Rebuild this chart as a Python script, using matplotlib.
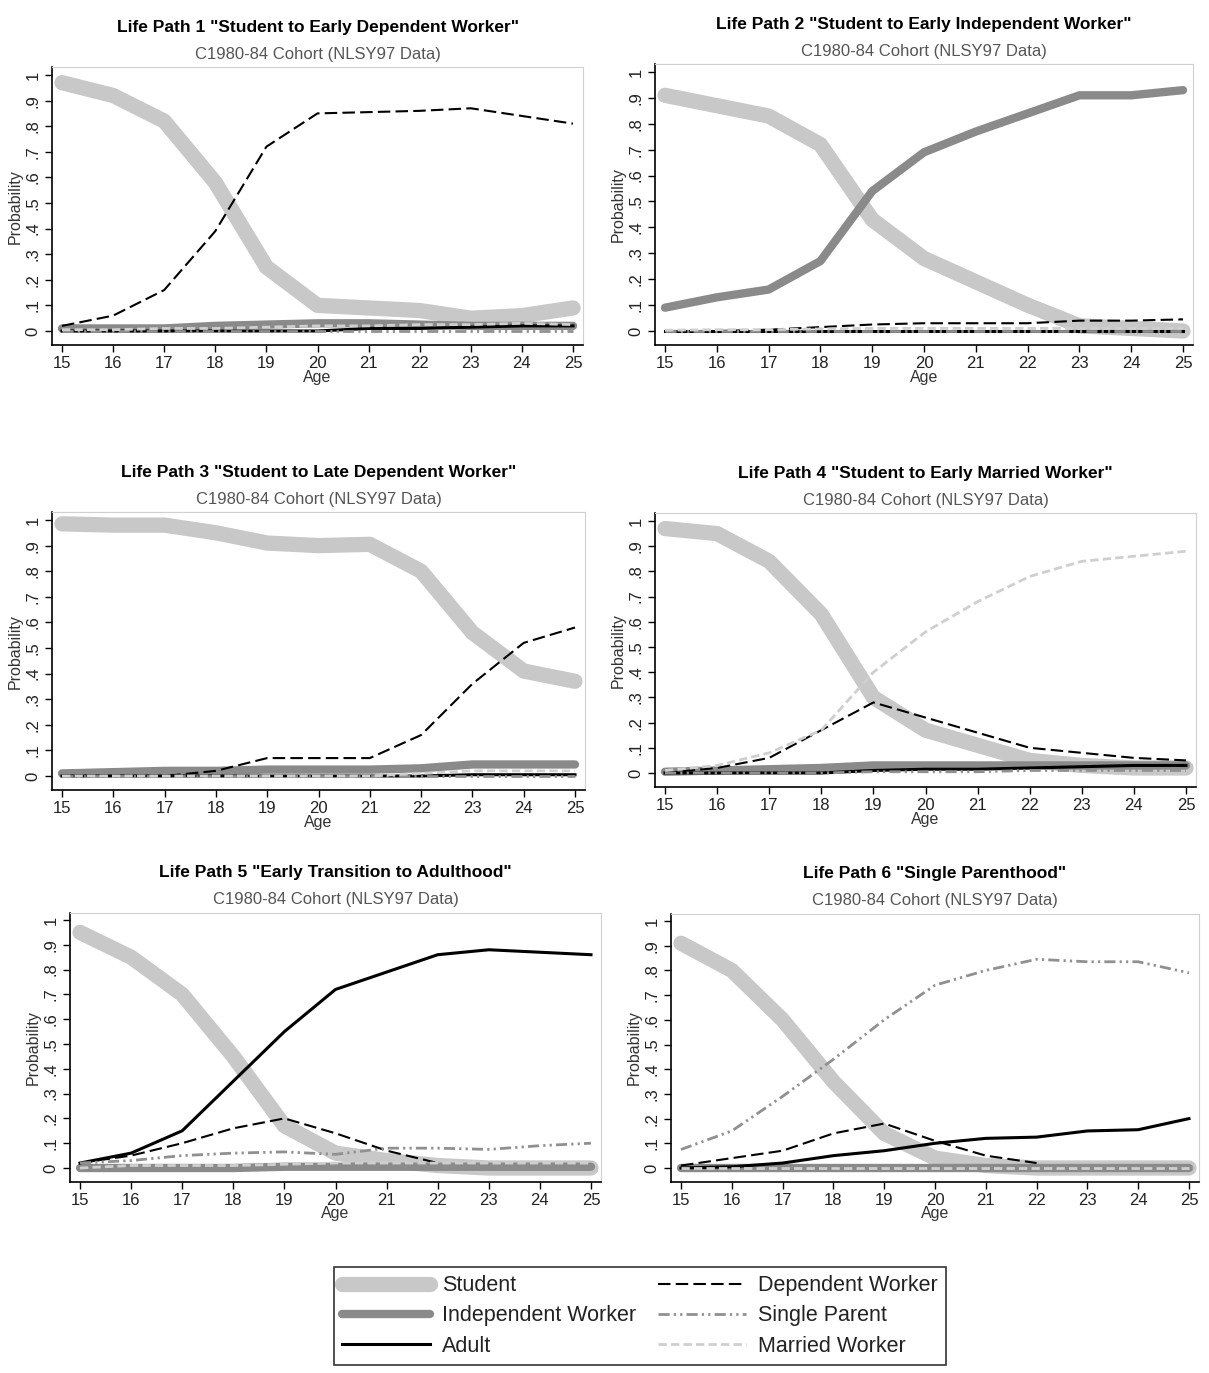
import matplotlib
matplotlib.use('Agg')
import matplotlib.pyplot as plt
import numpy as np

plt.rcParams['font.family'] = ['Liberation Sans', 'DejaVu Sans']

ages = np.arange(15, 26)
nan = np.nan

titles = ['Life Path 1 "Student to Early Dependent Worker"',
          'Life Path 2 "Student to Early Independent Worker"',
          'Life Path 3 "Student to Late Dependent Worker"',
          'Life Path 4 "Student to Early Married Worker"',
          'Life Path 5 "Early Transition to Adulthood"',
          'Life Path 6 "Single Parenthood"']
subtitle = 'C1980-84 Cohort (NLSY97 Data)'

series_names = ['Student', 'Independent Worker', 'Adult',
                'Dependent Worker', 'Single Parent', 'Married Worker']

# probabilities by age 15..25, one list per series, per life path
student = [
    [.97, .92, .82, .58, .25, .10, .09, .08, .05, .06, .09],
    [.91, .87, .83, .72, .43, .28, .19, .10, .02, .01, 0],
    [.985, .98, .98, .95, .91, .90, .905, .80, .56, .41, .37],
    [.97, .95, .84, .63, .30, .17, .11, .05, .03, .02, .02],
    [.95, .85, .70, .45, .17, .06, .03, .01, 0, 0, 0],
    [.91, .80, .60, .35, .14, .04, .01, 0, 0, 0, 0]]
independent = [
    [.01, .01, .01, .02, .025, .03, .03, .025, .02, .02, .02],
    [.09, .13, .16, .27, .54, .69, .77, .84, .91, .91, .93],
    [.01, .015, .02, .02, .025, .025, .025, .03, .045, .045, .045],
    [.005, .01, .015, .02, .03, .03, .03, .03, .03, .03, .03],
    [0, 0, 0, 0, .005, .005, .005, .005, .005, .005, .005],
    [0, 0, 0, 0, 0, 0, 0, 0, 0, 0, 0]]
adult = [
    [0, 0, 0, 0, 0, 0, .01, .01, .015, .02, .02],
    [0, 0, 0, 0, 0, 0, 0, 0, 0, 0, 0],
    [0, 0, 0, 0, 0, 0, 0, 0, .005, .005, .005],
    [0, 0, 0, 0, .01, .015, .015, .02, .025, .03, .03],
    [.02, .06, .15, .35, .55, .72, .79, .86, .88, .87, .86],
    [0, .005, .02, .05, .07, .10, .12, .125, .15, .155, .20]]
dependent = [
    [.02, .06, .16, .39, .72, .85, .855, .86, .87, .84, .81],
    [0, 0, .005, .015, .025, .03, .03, .03, .04, .04, .045],
    [0, 0, 0, .02, .07, .07, .07, .16, .36, .52, .58],
    [0, .02, .06, .17, .28, .22, .16, .10, .08, .06, .05],
    [.02, .05, .10, .16, .20, .14, .07, .02, nan, nan, nan],
    [.01, .04, .07, .14, .18, .11, .05, .02, nan, nan, nan]]
single_parent = [
    [0, 0, 0, 0, 0, 0, 0, 0, 0, 0, 0],
    [0, 0, 0, 0, 0, 0, 0, 0, 0, 0, 0],
    [0, 0, 0, 0, 0, 0, 0, 0, 0, 0, 0],
    [0, 0, 0, 0, .005, .005, .005, .01, .01, .01, .01],
    [.02, .03, .05, .06, .065, .055, .08, .08, .075, .09, .10],
    [.075, .15, .29, .44, .60, .74, .80, .845, .835, .835, .79]]
married = [
    [.005, .005, .01, .01, .015, .02, .02, .025, .025, .03, .025],
    [.003, .005, .005, .008, .01, .01, .01, .01, .01, .01, .01],
    [0, 0, 0, 0, 0, 0, 0, .01, .02, .02, .02],
    [.01, .03, .08, .17, .40, .56, .68, .78, .84, .86, .88],
    [0, .01, .01, .01, .015, .02, .02, .02, .02, .02, .02],
    [0, 0, 0, 0, 0, 0, 0, 0, 0, 0, 0]]

styles = [dict(color='#c8c8c8', lw=11, solid_capstyle='round'),
          dict(color='#8a8a8a', lw=6, solid_capstyle='round'),
          dict(color='black', lw=2.2),
          dict(color='black', lw=1.5, dashes=(6, 2.5)),
          dict(color='#909090', lw=2, dashes=(4, 1.5, 0.8, 1.5, 0.8, 1.5)),
          dict(color='#cfcfcf', lw=2, dashes=(3, 1.5))]

# pixel anchors of age 15, age 25, prob 0, prob 1 in each panel
anchors = [(62, 573, 331, 75), (665, 1183, 331, 72),
           (62, 575, 776, 520), (665, 1186, 773, 521),
           (80, 591, 1168, 920), (681, 1189, 1168, 921)]

W, H = 1209, 1373
fig = plt.figure(figsize=(W / 100, H / 100), dpi=100)

xlo, xhi = 14.8, 25.2
ylo, yhi = -0.055, 1.03
narrow = ['Liberation Sans Narrow', 'Liberation Sans']

for p in range(6):
    x15, x25, y0, y1 = anchors[p]
    sx = (x25 - x15) / 10.0
    sy = (y0 - y1)
    left = x15 + (xlo - 15) * sx
    right = x15 + (xhi - 15) * sx
    bot = y0 - ylo * sy
    top = y0 - yhi * sy
    ax = fig.add_axes([left / W, 1 - bot / H, (right - left) / W, (bot - top) / H])

    data = [student[p], independent[p], adult[p], dependent[p], single_parent[p], married[p]]
    for k in range(6):
        ax.plot(ages, data[k], label=series_names[k], **styles[k])

    ax.set_xlim(xlo, xhi)
    ax.set_ylim(ylo, yhi)
    ax.set_xticks(ages)
    ax.set_xticklabels([str(a) for a in ages], family=narrow, fontsize=12, color='#222222')
    yt = np.round(np.arange(0, 1.01, 0.1), 1)
    ax.set_yticks(yt)
    ax.set_yticklabels(['0', '.1', '.2', '.3', '.4', '.5', '.6', '.7', '.8', '.9', '1'],
                       rotation=90, va='center', family=narrow, fontsize=12, color='#222222')
    ax.tick_params(direction='out', length=5, width=1, color='black', pad=3)
    for s in ['top', 'right']:
        ax.spines[s].set_color('#d0d0d0')
    for s in ['left', 'bottom']:
        ax.spines[s].set_color('black')
        ax.spines[s].set_linewidth(1.2)
    ax.set_xlabel('Age', fontsize=11.5, labelpad=-1, family=narrow, color='#333333')
    ax.set_ylabel('Probability', fontsize=11.5, labelpad=2, family=narrow, color='#333333')

    cx = (left + right) / 2 / W
    fig.text(cx, 1 - (top - 40) / H, titles[p], ha='center', va='center', fontsize=12.5, fontweight='bold')
    fig.text(cx, 1 - (top - 13) / H, subtitle, ha='center', va='center', fontsize=12, color='#555555',
             family=narrow)

    if p == 0:
        handles, labels = ax.get_legend_handles_labels()

leg = fig.legend(handles, labels, ncol=2, loc='center', bbox_to_anchor=(640 / W, 1 - 1316 / H),
                 fontsize=15.5, handlelength=4.1, handletextpad=0.55, columnspacing=1.0,
                 labelspacing=0.42, fancybox=False, edgecolor='#333333', framealpha=1,
                 borderpad=0.4)
leg.get_frame().set_linewidth(1.2)
for t in leg.get_texts():
    t.set_color('#222222')

fig.savefig('out.png', dpi=100, facecolor='white')
